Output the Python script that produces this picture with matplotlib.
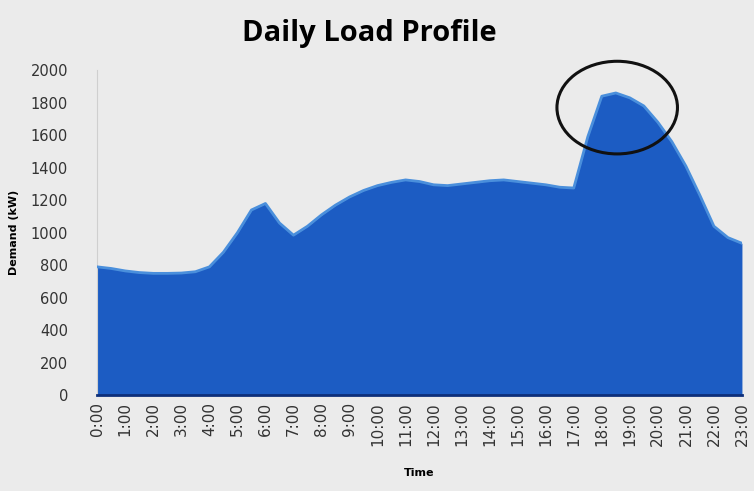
import numpy as np
import matplotlib.pyplot as plt
from matplotlib.patches import Ellipse

# half-hourly demand readings (kW)
hours = np.arange(0, 23.5, 0.5)
demand = [790, 780, 765, 755, 750, 750, 752, 760, 790, 880,
          1000, 1140, 1180, 1060, 985, 1040, 1110, 1170, 1220, 1260,
          1290, 1310, 1325, 1315, 1295, 1290, 1300, 1310, 1320, 1325,
          1315, 1305, 1295, 1280, 1275, 1590, 1840, 1860, 1830, 1780,
          1680, 1560, 1410, 1230, 1040, 970, 935]

tick_hours = list(range(24))
tick_labels = [f"{h}:00" for h in tick_hours]
y_ticks = list(range(0, 2001, 200))

bg = "#ebebeb"
fig = plt.figure(figsize=(7.54, 4.91), dpi=100, facecolor=bg)
ax = fig.add_axes([0.129, 0.195, 0.855, 0.662], facecolor=bg)

ax.fill_between(hours, demand, 0, color="#1c5cc3", linewidth=0, zorder=2)
ax.plot(hours, demand, color="#4a8fdc", linewidth=2, zorder=3)

# circle marking the evening peak
ax.add_patch(Ellipse((18.55, 1770), 4.3, 570, fill=False, edgecolor="#111111",
                     linewidth=2.2, clip_on=False, zorder=4))

ax.set_xlim(0, 23)
ax.set_ylim(0, 2000)
ax.set_xticks(tick_hours)
ax.set_xticklabels(tick_labels, rotation=90, fontsize=11, color="#333333")
ax.set_yticks(y_ticks)
ax.set_yticklabels([str(v) for v in y_ticks], fontsize=10.5, color="#333333")
ax.tick_params(axis="x", length=0, pad=5)
ax.tick_params(axis="y", length=0, pad=21)

for s in ["top", "right"]:
    ax.spines[s].set_visible(False)
ax.spines["left"].set_color("#cfcfcf")
ax.spines["bottom"].set_color("#0d2f7a")
ax.spines["bottom"].set_linewidth(2)

fig.suptitle("Daily Load Profile", x=0.49, y=0.962, fontsize=21,
             fontweight="bold", family="Open Sans")
ax.set_xlabel("Time", fontsize=8, fontweight="bold", labelpad=16)
ax.set_ylabel("Demand (kW)", fontsize=8, fontweight="bold", labelpad=8)

fig.savefig("out.png", dpi=100, facecolor=bg)
